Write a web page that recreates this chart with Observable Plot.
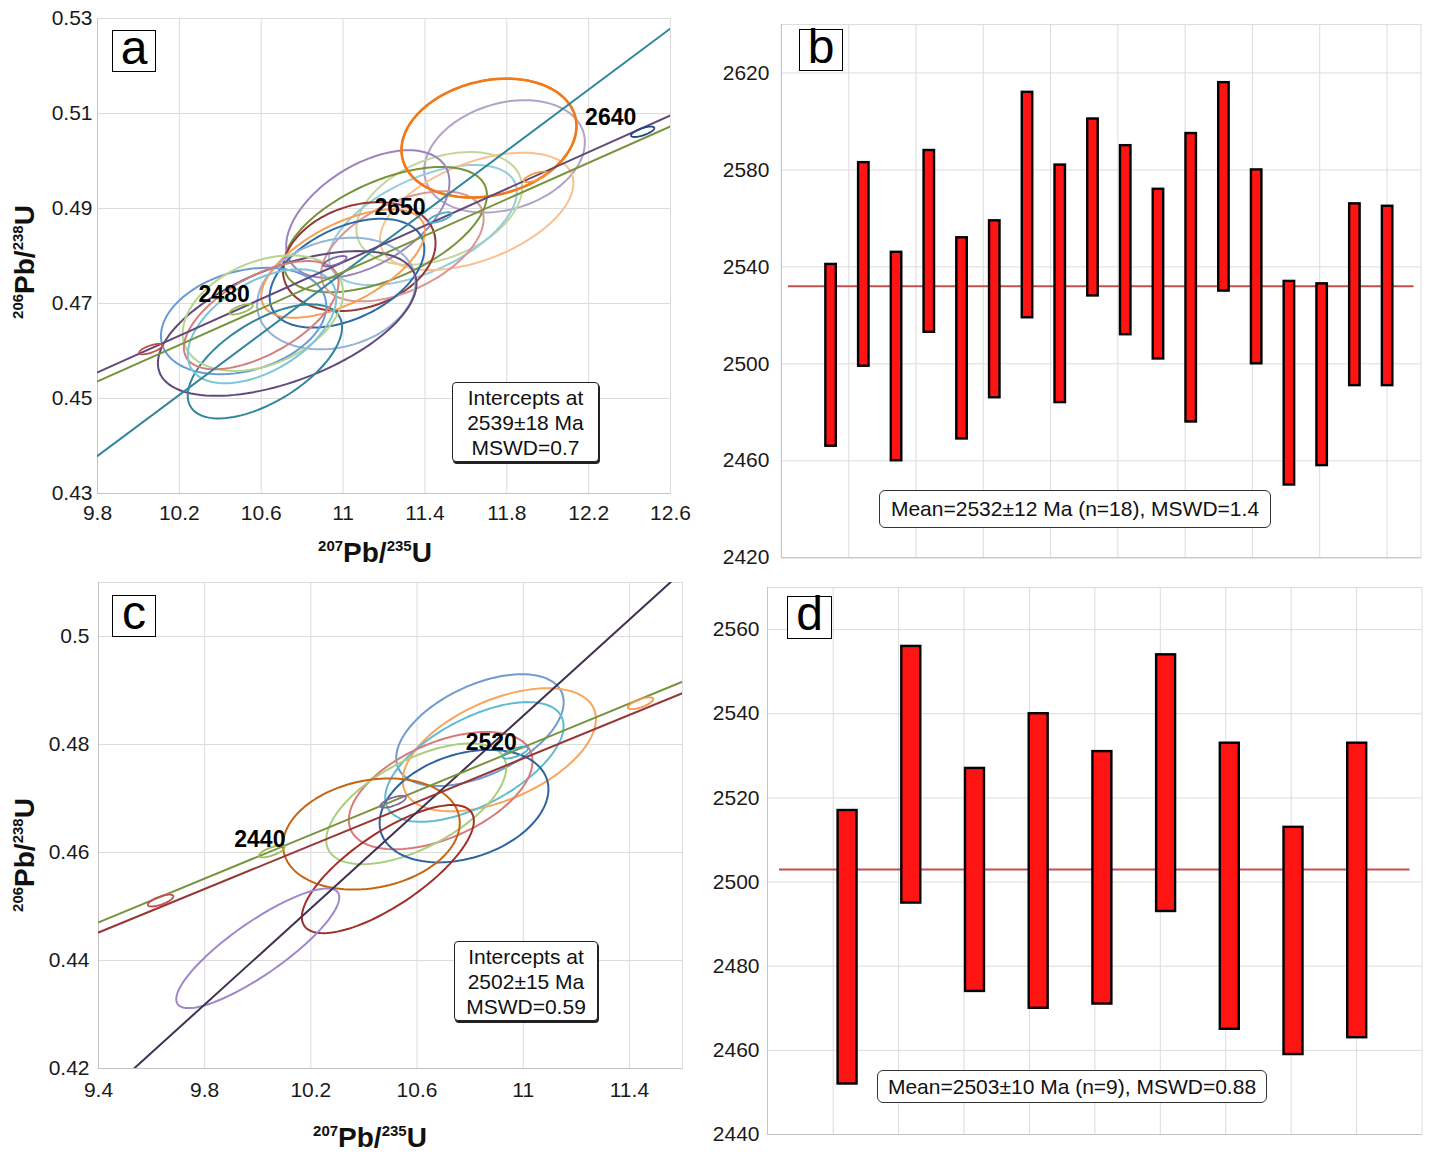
<!DOCTYPE html>
<html>
<head>
<meta charset="utf-8">
<script src="https://cdn.jsdelivr.net/npm/d3@7"></script>
<script src="https://cdn.jsdelivr.net/npm/@observablehq/plot@0.6"></script>
<style>
  body { margin: 0; background: #fff; font-family: "Liberation Sans", Arial, sans-serif; }
  #page { position: relative; width: 1429px; height: 1158px; overflow: hidden; background: #fff; }
  .panel { position: absolute; }
  .panel svg { overflow: visible; }
  .tag { position: absolute; box-sizing: border-box; border: 1.5px solid #000; background: #fff;
         font-size: 48px; line-height: 34px; text-align: center; color: #000; }
  .note { position: absolute; box-sizing: border-box; background: #fff; color: #111;
          font-size: 21px; text-align: center; }
  .box3 { border: 1.5px solid #222; border-radius: 4px; box-shadow: 1px 2px 0 #222; line-height: 25px; padding-top: 2px; }
  .boxm { border: 1px solid #333; border-radius: 6px; white-space: nowrap; }
  .ax { position: absolute; width: 300px; height: 40px; line-height: 40px; text-align: center;
        font-weight: bold; font-size: 28px; color: #111; white-space: nowrap; }
  .ax .s { font-size: 15px; position: relative; top: -11px; }
  .rot { transform: rotate(-90deg); }
</style>
</head>
<body>
<div id="page">
  <div class="panel" id="pa" style="left:0;top:0"></div>
  <div class="panel" id="pb" style="left:700px;top:0"></div>
  <div class="panel" id="pc" style="left:0;top:570px"></div>
  <div class="panel" id="pd" style="left:700px;top:570px"></div>

  <div class="tag" style="left:112px;top:30px;width:44px;height:42px">a</div>
  <div class="tag" style="left:799px;top:29px;width:44px;height:42px">b</div>
  <div class="tag" style="left:112px;top:595px;width:44px;height:42px">c</div>
  <div class="tag" style="left:787px;top:596px;width:45px;height:43px">d</div>

  <div class="note box3" style="left:452px;top:382px;width:147px;height:80px">Intercepts at<br>2539±18 Ma<br>MSWD=0.7</div>
  <div class="note box3" style="left:454px;top:941px;width:144px;height:80px">Intercepts at<br>2502±15 Ma<br>MSWD=0.59</div>
  <div class="note boxm" style="left:879px;top:490px;width:392px;height:38px;line-height:36px">Mean=2532±12 Ma (n=18), MSWD=1.4</div>
  <div class="note boxm" style="left:877px;top:1070px;width:390px;height:33px;line-height:31px">Mean=2503±10 Ma (n=9), MSWD=0.88</div>

  <div class="ax" style="left:225px;top:533px"><span class="s">207</span>Pb/<span class="s">235</span>U</div>
  <div class="ax rot" style="left:-125px;top:242px"><span class="s">206</span>Pb/<span class="s">238</span>U</div>
  <div class="ax" style="left:220px;top:1118px"><span class="s">207</span>Pb/<span class="s">235</span>U</div>
  <div class="ax rot" style="left:-125px;top:835px"><span class="s">206</span>Pb/<span class="s">238</span>U</div>
</div>

<script>
// ---------- panel a : concordia, sample 1 ----------
const aXTicks = [9.8, 10.2, 10.6, 11, 11.4, 11.8, 12.2, 12.6];
const aYTicks = [0.43, 0.45, 0.47, 0.49, 0.51, 0.53];
// error ellipses: centre, half-extent in x and y, correlation
const aCx  = [11.713, 11.789, 11.470, 11.390, 11.653, 11.207, 11.121, 11.079, 11.290, 11.019, 10.967, 11.000, 10.727, 10.618, 10.514, 10.608, 10.600, 10.604];
const aCy  = [0.50483, 0.50098, 0.49003, 0.48652, 0.48940, 0.48555, 0.48883, 0.47988, 0.48204, 0.47638, 0.47210, 0.47840, 0.46580, 0.45781, 0.46632, 0.46797, 0.46755, 0.46520];
const aSx  = [0.4275, 0.3925, 0.405, 0.459, 0.4725, 0.496, 0.399, 0.373, 0.397, 0.378, 0.387, 0.400, 0.632, 0.377, 0.404, 0.392, 0.378, 0.363];
const aSy  = [0.01251, 0.01182, 0.01186, 0.01264, 0.01235, 0.01319, 0.01343, 0.01146, 0.01159, 0.01146, 0.01174, 0.01140, 0.01524, 0.01201, 0.01121, 0.01216, 0.01139, 0.01200];
const aRho = [0.2, 0.25, 0.37, 0.55, 0.48, 0.55, 0.5, 0.25, 0.5, 0.44, 0.2, 0.6, 0.55, 0.6, 0.28, 0.35, 0.6, 0.5];
const aColors = ["#f07a1a", "#b3a2c7", "#c3d69b", "#93cddd", "#fac090", "#77933c", "#9b84bd", "#953735",
                 "#d99694", "#2f6aa6", "#95b3d7", "#f7a055", "#604a7b", "#31859c", "#6a9ad6", "#b7d48c", "#d47f7c", "#7cc4d8"];
// concordia (two curves) and discordia end points
const aConcordia1 = [{x: 9.8, y: 0.4555}, {x: 12.6, y: 0.5096}];
const aConcordia2 = [{x: 9.8, y: 0.4536}, {x: 12.6, y: 0.5073}];
const aDiscordia  = [{x: 9.8, y: 0.4379}, {x: 12.6, y: 0.5279}];
// age markers on the concordia
const aMarkX = [10.060, 10.502, 10.960, 11.474, 11.940, 12.464];
const aMarkY = [0.4604, 0.46878, 0.4789, 0.48811, 0.49666, 0.50615];
const aMarkColors = ["#c0504d", "#9bbb59", "#8064a2", "#4bacc6", "#f79646", "#1f497d"];
const aAgeLabels = [null, "2480", null, "2650", null, "2640"];

// ---------- panel b : weighted mean, sample 1 ----------
const bYTicks = [2420, 2460, 2500, 2540, 2580, 2620];
const bLow  = [2466, 2499, 2460, 2513, 2469, 2486, 2519, 2484, 2528, 2512, 2502, 2476, 2530, 2500, 2450, 2458, 2491, 2491];
const bHigh = [2541, 2583, 2546, 2588, 2552, 2559, 2612, 2582, 2601, 2590, 2572, 2595, 2616, 2580, 2534, 2533, 2566, 2565];
const bMean = 2532;
const bGrid = [1.54, 3.595, 5.65, 7.705, 9.76, 11.815, 13.87, 15.925, 17.98];

// ---------- panel c : concordia, sample 2 ----------
const cXTicks = [9.4, 9.8, 10.2, 10.6, 11, 11.4];
const cYTicks = [0.42, 0.44, 0.46, 0.48, 0.5];
const cCx  = [10.837, 10.910, 10.816, 10.689, 10.597, 10.777, 10.428, 10.490, 10.000];
const cCy  = [0.48267, 0.47902, 0.47677, 0.47146, 0.46901, 0.46859, 0.46342, 0.45693, 0.44226];
const cSx  = [0.3155, 0.364, 0.336, 0.346, 0.339, 0.318, 0.333, 0.324, 0.307];
const cSy  = [0.01035, 0.01139, 0.01108, 0.01087, 0.01118, 0.01042, 0.01029, 0.01187, 0.01108];
const cRho = [0.5, 0.5, 0.6, 0.5, 0.6, 0.3, 0.2, 0.75, 0.85];
const cColors = ["#6f9bd0", "#f9a55a", "#5fbcd3", "#d77a78", "#a9cf7c", "#2e63a0", "#c5650f", "#a0302c", "#9f88c9"];
const cConcordia1 = [{x: 9.4, y: 0.44706}, {x: 11.6, y: 0.49165}];
const cConcordia2 = [{x: 9.4, y: 0.44519}, {x: 11.6, y: 0.48951}];
const cDiscordia  = [{x: 9.534, y: 0.42}, {x: 11.556, y: 0.5101}];
const cMarkX = [9.634, 10.053, 10.510, 10.970, 11.442];
const cMarkY = [0.4511, 0.4602, 0.4694, 0.4785, 0.48764];
const cMarkColors = ["#c0504d", "#9bbb59", "#8064a2", "#4bacc6", "#f79646"];
const cAgeLabels = [null, "2440", null, "2520", null];

// ---------- panel d : weighted mean, sample 2 ----------
const dYTicks = [2440, 2460, 2480, 2500, 2520, 2540, 2560];
const dLow  = [2452, 2495, 2474, 2470, 2471, 2493, 2465, 2459, 2463];
const dHigh = [2517, 2556, 2527, 2540, 2531, 2554, 2533, 2513, 2533];
const dMean = 2503;
const dGrid = [0.774, 1.801, 2.828, 3.855, 4.882, 5.909, 6.936, 7.963, 8.99];

// ---------- helpers ----------
const gridColor = "#dcdcdc";
const axisColor = "#c4c4c4";
const fmt = d => String(+d.toFixed(2));
const axisStyle = {fontFamily: "'Liberation Sans', Arial, sans-serif", fontSize: "21px", color: "#1a1a1a", background: "transparent", overflow: "visible"};

// outline points of an error ellipse (x = cx + sx cos t, y = cy + sy (rho cos t + sqrt(1-rho^2) sin t))
function ellipseRows(cx, cy, sx, sy, rho, colors) {
  const rows = [];
  cx.forEach((_, i) => {
    const r = Math.sqrt(1 - rho[i] * rho[i]);
    for (let k = 0; k <= 120; k++) {
      const t = (2 * Math.PI * k) / 120;
      rows.push({id: i, color: colors[i],
        x: cx[i] + sx[i] * Math.cos(t),
        y: cy[i] + sy[i] * (rho[i] * Math.cos(t) + r * Math.sin(t))});
    }
  });
  return rows;
}

function markerRows(mx, my, colors, sx, sy, rho) {
  return ellipseRows(mx, my, mx.map(() => sx), my.map(() => sy), mx.map(() => rho), colors);
}

function ageText(mx, my, labels, offsets) {
  return labels.map((t, i) => t == null ? null :
    Plot.text([{x: mx[i], y: my[i], t}], {x: "x", y: "y", text: "t", dx: offsets[i][0], dy: offsets[i][1],
      fontWeight: "bold", fontSize: 23, fill: "#000"})).filter(Boolean);
}

function concordiaPlot(o) {
  const ell = ellipseRows(o.cx, o.cy, o.sx, o.sy, o.rho, o.colors);
  const marks = markerRows(o.markX, o.markY, o.markColors, o.markSx, o.markSy, 0.7);
  return Plot.plot({
    width: o.width, height: o.height,
    marginLeft: o.ml, marginRight: o.mr, marginTop: o.mt, marginBottom: o.mb,
    style: axisStyle,
    color: {type: "identity"},
    x: {domain: o.xDomain, ticks: o.xTicks, tickSize: 0, tickPadding: o.xPad, tickFormat: fmt, label: null},
    y: {domain: o.yDomain, ticks: o.yTicks, tickSize: 0, tickPadding: o.yPad, tickFormat: fmt, label: null},
    marks: [
      Plot.gridX(o.xTicks, {stroke: gridColor, strokeOpacity: 1}),
      Plot.gridY(o.yTicks, {stroke: gridColor, strokeOpacity: 1}),
      Plot.frame({stroke: gridColor}),
      Plot.ruleX([o.xDomain[0]], {stroke: axisColor}),
      Plot.ruleY([o.yDomain[0]], {stroke: axisColor}),
      Plot.line(ell, {x: "x", y: "y", z: "id", stroke: "color", strokeWidth: 2, clip: true}),
      Plot.line(ell.filter(d => d.id === o.thickId), {x: "x", y: "y", z: "id", stroke: "color", strokeWidth: 2.6, clip: true}),
      Plot.line(o.disc, {x: "x", y: "y", stroke: o.discColor, strokeWidth: 2, clip: true}),
      Plot.line(o.conc1, {x: "x", y: "y", stroke: o.concColors[0], strokeWidth: 2, clip: true}),
      Plot.line(o.conc2, {x: "x", y: "y", stroke: o.concColors[1], strokeWidth: 2, clip: true}),
      Plot.line(marks, {x: "x", y: "y", z: "id", stroke: "color", strokeWidth: 1.8}),
      ...ageText(o.markX, o.markY, o.labels, o.offsets)
    ]
  });
}

function meanPlot(o) {
  const rows = o.low.map((lo, i) => ({i: i + 1, lo, hi: o.high[i]}));
  return Plot.plot({
    width: o.width, height: o.height,
    marginLeft: o.ml, marginRight: o.mr, marginTop: o.mt, marginBottom: o.mb,
    style: axisStyle,
    x: {domain: o.xDomain, axis: null},
    y: {domain: o.yDomain, ticks: o.yTicks, tickSize: 0, tickPadding: o.yPad, tickFormat: fmt, label: null},
    marks: [
      Plot.gridX(o.grid, {stroke: gridColor, strokeOpacity: 1}),
      Plot.gridY(o.yTicks, {stroke: gridColor, strokeOpacity: 1}),
      Plot.frame({stroke: gridColor}),
      Plot.ruleX([o.xDomain[0]], {stroke: axisColor}),
      Plot.ruleY([o.yDomain[0]], {stroke: axisColor}),
      Plot.ruleY([o.mean], {stroke: "#c0504d", strokeWidth: 2, insetLeft: o.meanInset, insetRight: o.meanInset}),
      Plot.rect(rows, {x1: d => d.i - o.hw, x2: d => d.i + o.hw, y1: "lo", y2: "hi",
        fill: "#ff1414", stroke: "#000", strokeWidth: 2.4})
    ]
  });
}

document.getElementById("pa").append(concordiaPlot({
  width: 700, height: 530, ml: 97, mr: 30, mt: 18, mb: 37, xPad: 12, yPad: 5,
  xDomain: [9.8, 12.6], yDomain: [0.43, 0.53], xTicks: aXTicks, yTicks: aYTicks,
  cx: aCx, cy: aCy, sx: aSx, sy: aSy, rho: aRho, colors: aColors, thickId: 0,
  disc: aDiscordia, discColor: "#31859c", conc1: aConcordia1, conc2: aConcordia2, concColors: ["#604a7b", "#77933c"],
  markX: aMarkX, markY: aMarkY, markColors: aMarkColors, markSx: 0.057, markSy: 0.0011,
  labels: aAgeLabels, offsets: [[0, 0], [-17, -15], [0, 0], [-40, -10], [0, 0], [-32, -14]]
}));

document.getElementById("pb").append(meanPlot({
  width: 730, height: 570, ml: 81, mr: 8.5, mt: 24, mb: 12, yPad: 12,
  xDomain: [-0.518, 19.02], yDomain: [2420, 2640], yTicks: bYTicks, grid: bGrid,
  low: bLow, high: bHigh, mean: bMean, hw: 0.16, meanInset: 7
}));

document.getElementById("pc").append(concordiaPlot({
  width: 700, height: 540, ml: 98, mr: 18, mt: 12, mb: 42, xPad: 14, yPad: 9,
  xDomain: [9.4, 11.6], yDomain: [0.42, 0.51], xTicks: cXTicks, yTicks: cYTicks,
  cx: cCx, cy: cCy, sx: cSx, sy: cSy, rho: cRho, colors: cColors, thickId: -1,
  disc: cDiscordia, discColor: "#403151", conc1: cConcordia1, conc2: cConcordia2, concColors: ["#77933c", "#953735"],
  markX: cMarkX, markY: cMarkY, markColors: cMarkColors, markSx: 0.048, markSy: 0.0011,
  labels: cAgeLabels, offsets: [[0, 0], [-12, -12], [0, 0], [-24, -10], [0, 0]]
}));

document.getElementById("pd").append(meanPlot({
  width: 729, height: 578, ml: 67, mr: 7.5, mt: 17, mb: 14, yPad: 8,
  xDomain: [-0.257, 10.017], yDomain: [2440, 2570], yTicks: dYTicks, grid: dGrid,
  low: dLow, high: dHigh, mean: dMean, hw: 0.149, meanInset: 12
}));
</script>
</body>
</html>
